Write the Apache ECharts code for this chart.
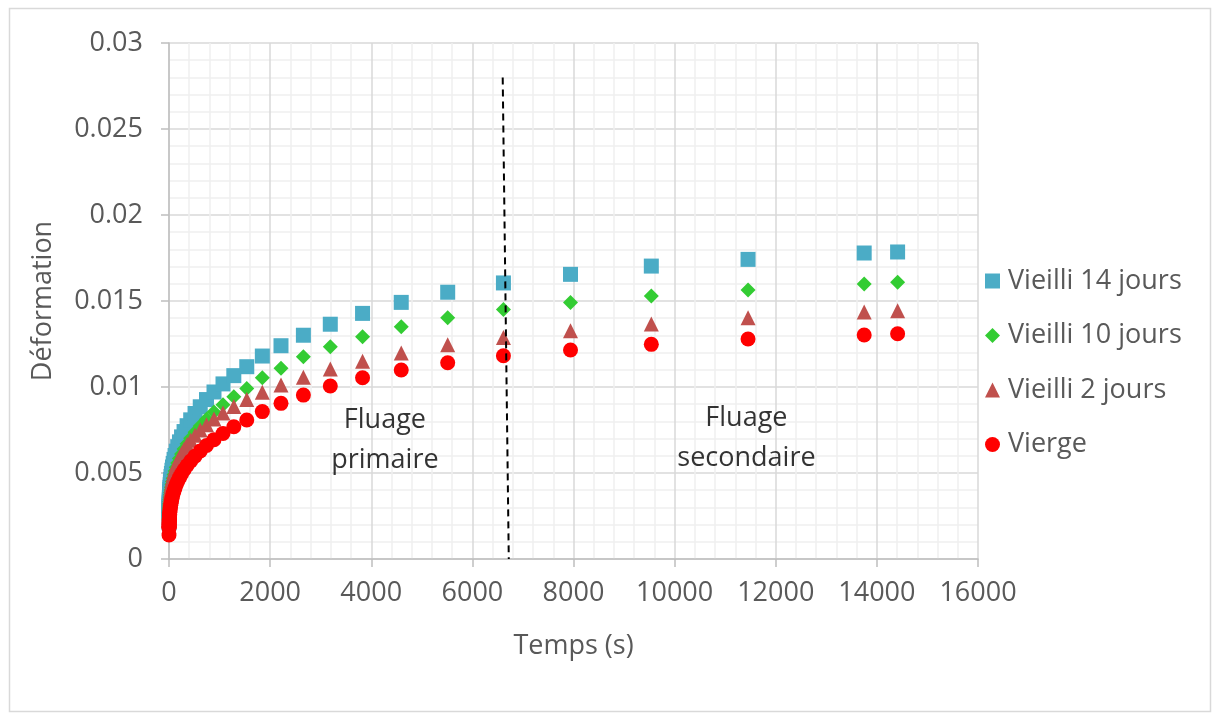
<!DOCTYPE html>
<html>
<head>
<meta charset="utf-8">
<title>Fluage</title>
<script src="https://cdn.jsdelivr.net/npm/echarts@6/dist/echarts.min.js"></script>
<style>
  html, body { margin: 0; padding: 0; background: #ffffff; }
  #chart { width: 1215px; height: 716px; }
</style>
</head>
<body>
<div id="chart"></div>
<script>
// Temps de mesure (s)
const temps = [0, 1, 1.2, 1.4, 1.7, 2.1, 2.5, 3, 3.6, 4.3, 5.2, 6.2, 7.4, 8.9, 11, 13, 16, 19, 23, 28,
  33, 40, 48, 58, 69, 83, 100, 120, 144, 172, 207, 248, 298, 358, 429, 515, 618, 742, 890, 1068,
  1282, 1538, 1846, 2215, 2658, 3190, 3828, 4593, 5512, 6614, 7941, 9539, 11452, 13749, 14410];

// Déformation mesurée pour chaque éprouvette
const vieilli14 = [0.00210, 0.00274, 0.00280, 0.00285, 0.00291, 0.00299, 0.00306, 0.00313, 0.00321, 0.00329,
  0.00338, 0.00347, 0.00357, 0.00367, 0.00380, 0.00391, 0.00405, 0.00417, 0.00432, 0.00448,
  0.00462, 0.00480, 0.00497, 0.00516, 0.00535, 0.00556, 0.00579, 0.00602, 0.00627, 0.00653,
  0.00681, 0.00710, 0.00741, 0.00775, 0.00809, 0.00846, 0.00885, 0.00927, 0.00971, 0.01018,
  0.01066, 0.01118, 0.01180, 0.01240, 0.01301, 0.01365, 0.01428, 0.01492, 0.01551, 0.01605,
  0.01655, 0.01703, 0.01742, 0.01779, 0.01785];

const vieilli10 = [0.00180, 0.00224, 0.00228, 0.00233, 0.00238, 0.00244, 0.00250, 0.00256, 0.00263, 0.00270,
  0.00278, 0.00285, 0.00293, 0.00303, 0.00314, 0.00323, 0.00335, 0.00346, 0.00359, 0.00373,
  0.00386, 0.00401, 0.00417, 0.00434, 0.00451, 0.00470, 0.00491, 0.00512, 0.00534, 0.00558,
  0.00584, 0.00610, 0.00639, 0.00670, 0.00702, 0.00737, 0.00773, 0.00812, 0.00854, 0.00897,
  0.00944, 0.00992, 0.01054, 0.01109, 0.01176, 0.01234, 0.01292, 0.01351, 0.01403, 0.01450,
  0.01492, 0.01529, 0.01564, 0.01599, 0.01609];

const vieilli2 = [0.00190, 0.00244, 0.00249, 0.00254, 0.00260, 0.00267, 0.00273, 0.00280, 0.00287, 0.00295,
  0.00303, 0.00311, 0.00320, 0.00329, 0.00341, 0.00350, 0.00362, 0.00373, 0.00386, 0.00400,
  0.00412, 0.00426, 0.00441, 0.00458, 0.00473, 0.00491, 0.00509, 0.00528, 0.00548, 0.00569,
  0.00591, 0.00614, 0.00638, 0.00665, 0.00691, 0.00720, 0.00750, 0.00781, 0.00814, 0.00849,
  0.00886, 0.00928, 0.00969, 0.01012, 0.01056, 0.01105, 0.01149, 0.01198, 0.01245, 0.01288,
  0.01327, 0.01366, 0.01403, 0.01436, 0.01444];

const vierge = [0.00140, 0.00180, 0.00184, 0.00187, 0.00191, 0.00197, 0.00201, 0.00206, 0.00212, 0.00217,
  0.00224, 0.00230, 0.00236, 0.00244, 0.00253, 0.00260, 0.00271, 0.00279, 0.00290, 0.00301,
  0.00312, 0.00324, 0.00337, 0.00351, 0.00365, 0.00381, 0.00397, 0.00414, 0.00433, 0.00452,
  0.00473, 0.00495, 0.00519, 0.00544, 0.00570, 0.00598, 0.00628, 0.00660, 0.00694, 0.00730,
  0.00769, 0.00808, 0.00857, 0.00905, 0.00953, 0.01006, 0.01054, 0.01099, 0.01141, 0.01182,
  0.01215, 0.01248, 0.01279, 0.01302, 0.01310];

// Séparation fluage primaire / secondaire
const limiteTemps = [6600, 6720];
const limiteDef = [0.0280, 0];

// Annotations des deux régimes
const zones = [
  { texte: 'Fluage\nprimaire', t: 4270, def: 0.0069 },
  { texte: 'Fluage\nsecondaire', t: 11420, def: 0.0070 }
];

const series = [
  { nom: 'Vieilli 14 jours', valeurs: vieilli14, symbole: 'rect', couleur: '#4BACC6', taille: 15 },
  { nom: 'Vieilli 10 jours', valeurs: vieilli10, symbole: 'diamond', couleur: '#33CC33', taille: 15 },
  { nom: 'Vieilli 2 jours', valeurs: vieilli2, symbole: 'triangle', couleur: '#C0504D', taille: 15 },
  { nom: 'Vierge', valeurs: vierge, symbole: 'circle', couleur: '#FF0000', taille: 15 }
];

const grisTexte = '#595959';
const police = 'Open Sans';

const chart = echarts.init(document.getElementById('chart'), null, { renderer: 'canvas' });

const axisCommun = {
  type: 'value',
  axisLine: { show: true, lineStyle: { color: '#BFBFBF', width: 1.5 } },
  axisTick: { show: true, length: 8, lineStyle: { color: '#BFBFBF', width: 1.5 } },
  splitLine: { show: true, lineStyle: { color: '#D9D9D9', width: 1.5 } },
  minorTick: { show: false, splitNumber: 5 },
  minorSplitLine: { show: true, lineStyle: { color: '#F0F0F0', width: 1.5 } },
  axisLabel: { color: grisTexte, fontSize: 27, fontFamily: police },
  nameTextStyle: { color: grisTexte, fontSize: 27, fontFamily: police }
};

const option = {
  animation: false,
  backgroundColor: '#ffffff',
  textStyle: { fontFamily: police },
  graphic: [{
    type: 'rect',
    left: 7, top: 6,
    shape: { width: 1201, height: 703 },
    style: { fill: 'none', stroke: '#D9D9D9', lineWidth: 1.5 },
    silent: true
  }],
  grid: { left: 169, right: 237, top: 43, bottom: 157, containLabel: false },
  xAxis: Object.assign({}, axisCommun, {
    min: 0, max: 16000, interval: 2000,
    name: 'Temps (s)', nameLocation: 'middle', nameGap: 74,
    axisLabel: Object.assign({}, axisCommun.axisLabel, { margin: 21, formatter: v => String(v) })
  }),
  yAxis: Object.assign({}, axisCommun, {
    min: 0, max: 0.03, interval: 0.005,
    name: 'Déformation', nameLocation: 'middle', nameGap: 112, nameRotate: 90,
    axisLabel: Object.assign({}, axisCommun.axisLabel, { margin: 26 })
  }),
  legend: {
    orient: 'vertical',
    left: 980, top: 261,
    itemWidth: 15, itemHeight: 15, itemGap: 24.5,
    textStyle: { color: grisTexte, fontSize: 27, fontFamily: police, lineHeight: 30, padding: [0, 0, 0, 3] },
    data: series.map(s => ({ name: s.nom, icon: s.symbole }))
  },
  series: [
    ...series.map(s => ({
      name: s.nom,
      type: 'scatter',
      symbol: s.symbole,
      symbolSize: s.taille,
      itemStyle: { color: s.couleur, opacity: 1 },
      data: temps.map((t, i) => [t, s.valeurs[i]]),
      silent: true
    })),
    {
      name: 'limite',
      type: 'line',
      data: limiteTemps.map((t, i) => [t, limiteDef[i]]),
      showSymbol: false,
      symbol: 'none',
      lineStyle: { color: '#000000', width: 2, type: [7, 5] },
      silent: true,
      z: 5
    },
    {
      name: 'zones',
      type: 'scatter',
      symbolSize: 0,
      data: zones.map(z => ({ value: [z.t, z.def], texte: z.texte })),
      label: {
        show: true,
        position: 'inside',
        formatter: p => p.data.texte,
        color: '#000000',
        fontSize: 27,
        fontFamily: police,
        lineHeight: 40,
        align: 'center'
      },
      silent: true,
      z: 6
    }
  ]
};

chart.setOption(option);
</script>
</body>
</html>
